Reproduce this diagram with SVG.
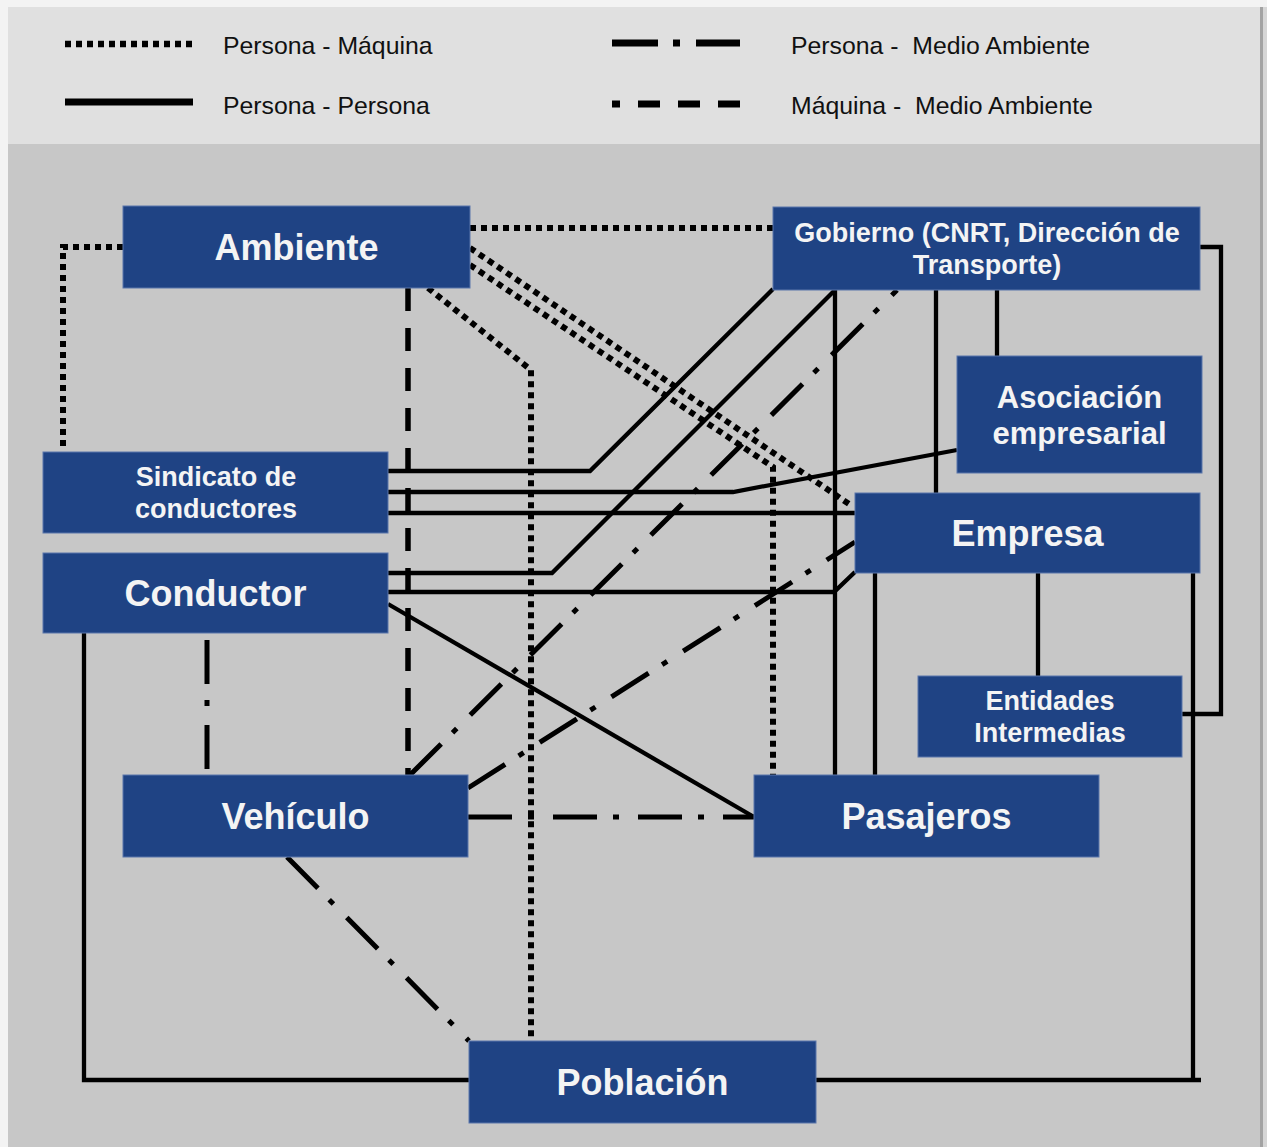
<svg xmlns="http://www.w3.org/2000/svg" width="1267" height="1147" viewBox="0 0 1267 1147">
<style>
.box{fill:#1f4384;stroke:#5b76ab;stroke-width:1}
.lbl{fill:#f4f4f4;font-family:"Liberation Sans",Arial,sans-serif;font-weight:bold;text-anchor:middle}
.leg{fill:#111;font-family:"Liberation Sans",Arial,sans-serif;font-size:24.8px;white-space:pre}
.pp{fill:none;stroke:#000;stroke-width:4.3;stroke-linejoin:miter}
.pm{fill:none;stroke:#000;stroke-width:6;stroke-dasharray:6 5}
.pma{fill:none;stroke:#000;stroke-width:5;stroke-dasharray:44 16 6 19}
.mma{fill:none;stroke:#000;stroke-width:5.5;stroke-dasharray:23 17}
</style>
<rect x="0" y="0" width="1267" height="1147" fill="#f3f3f3"/>
<rect x="8" y="7" width="1252" height="137" fill="#e0e0e0"/>
<rect x="8" y="144" width="1252" height="1003" fill="#c7c7c7"/>
<rect x="1260" y="7" width="3" height="1140" fill="#a3a3a3"/>
<rect x="1263" y="7" width="4" height="1140" fill="#d6d6d6"/>

<g id="legend">
<line class="pm" x1="65" y1="44" x2="193" y2="44" style="stroke-width:6.5"/>
<line x1="65" y1="102" x2="193" y2="102" stroke="#000" stroke-width="7"/>
<line x1="612" y1="43" x2="740" y2="43" stroke="#000" stroke-width="7" stroke-dasharray="46 15 7 16 46"/>
<line x1="612" y1="104" x2="740" y2="104" stroke="#000" stroke-width="7" stroke-dasharray="22 18" stroke-dashoffset="14"/>
<text class="leg" x="223" y="54">Persona - Máquina</text>
<text class="leg" x="223" y="114">Persona - Persona</text>
<text class="leg" x="791" y="54">Persona -  Medio Ambiente</text>
<text class="leg" x="791" y="114">Máquina -  Medio Ambiente</text>
</g>

<g id="connectors">
<!-- Persona - Máquina (dotted) -->
<path class="pm" d="M123,247 H63 V451"/>
<path class="pm" d="M470,228 H773"/>
<path class="pm" d="M470,248 L852,506"/>
<path class="pm" d="M470,265 L773,467 V775"/>
<path class="pm" d="M428,288 L531,370 V1041"/>
<!-- Máquina - Medio Ambiente (dashed) -->
<path class="mma" d="M408,288 V775"/>
<!-- Persona - Medio Ambiente (dash-dot) -->
<path class="pma" d="M207,640 V775"/>
<path class="pma" d="M468,817 H754"/>
<path class="pma" d="M410,775 L897,290"/>
<path class="pma" d="M468,788 L855,542"/>
<path class="pma" d="M287,857 L469,1041"/>
<!-- Persona - Persona (solid) -->
<path class="pp" d="M388,471 H590 L773,289"/>
<path class="pp" d="M388,492 H733 L957,450"/>
<path class="pp" d="M388,513 H855"/>
<path class="pp" d="M388,573 H552 L835,290"/>
<path class="pp" d="M388,592 H834 L855,572"/>
<path class="pp" d="M388,604 L754,817"/>
<path class="pp" d="M835,290 V775"/>
<path class="pp" d="M936,290 V493"/>
<path class="pp" d="M997,290 V356"/>
<path class="pp" d="M875,573 V775"/>
<path class="pp" d="M1038,573 V676"/>
<path class="pp" d="M1200,247 H1221 V714 H1182"/>
<path class="pp" d="M84,633 V1080 H469"/>
<path class="pp" d="M816,1080 H1201 M1193,573 V1080"/>
</g>

<g id="ambiente"><rect class="box" x="123" y="206" width="347" height="82"/><text class="lbl" x="296.5" y="260" font-size="36">Ambiente</text></g>
<g id="gobierno"><rect class="box" x="773" y="207" width="427" height="83"/><text class="lbl" x="987" y="242" font-size="27">Gobierno (CNRT, Dirección de</text><text class="lbl" x="987" y="274" font-size="27">Transporte)</text></g>
<g id="asociacion"><rect class="box" x="957" y="356" width="245" height="117"/><text class="lbl" x="1079.5" y="408" font-size="31">Asociación</text><text class="lbl" x="1079.5" y="444" font-size="31">empresarial</text></g>
<g id="sindicato"><rect class="box" x="43" y="452" width="345" height="81"/><text class="lbl" x="216" y="486" font-size="27">Sindicato de</text><text class="lbl" x="216" y="518" font-size="27">conductores</text></g>
<g id="empresa"><rect class="box" x="855" y="493" width="345" height="80"/><text class="lbl" x="1027.5" y="546" font-size="36">Empresa</text></g>
<g id="conductor"><rect class="box" x="43" y="553" width="345" height="80"/><text class="lbl" x="215.5" y="606" font-size="36">Conductor</text></g>
<g id="entidades"><rect class="box" x="918" y="676" width="264" height="81"/><text class="lbl" x="1050" y="710" font-size="27">Entidades</text><text class="lbl" x="1050" y="742" font-size="27">Intermedias</text></g>
<g id="vehiculo"><rect class="box" x="123" y="775" width="345" height="82"/><text class="lbl" x="295.5" y="829" font-size="36">Vehículo</text></g>
<g id="pasajeros"><rect class="box" x="754" y="775" width="345" height="82"/><text class="lbl" x="926.5" y="829" font-size="36">Pasajeros</text></g>
<g id="poblacion"><rect class="box" x="469" y="1041" width="347" height="82"/><text class="lbl" x="642.5" y="1095" font-size="36">Población</text></g>
</svg>
